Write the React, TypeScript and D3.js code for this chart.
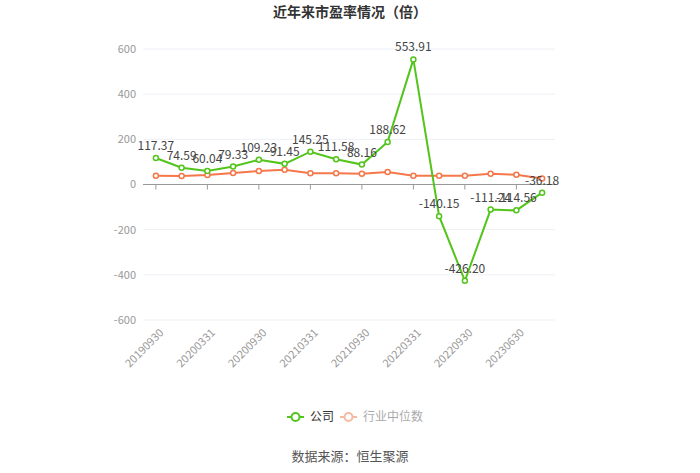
import React from "react";
import * as d3 from "d3";

const categories = [
  "20190930", "20191231", "20200331", "20200630", "20200930", "20201231",
  "20210331", "20210630", "20210930", "20211231", "20220331", "20220630",
  "20220930", "20221231", "20230630", "20230930",
];
const companyValues = [117.37, 74.59, 60.04, 79.33, 109.23, 91.45, 145.25, 111.58, 88.16, 188.62, 553.91, -140.15, -426.2, -111.24, -114.56, -36.18];
const industryValues = [39, 37.6, 42, 51, 60, 65.5, 49.6, 49.6, 48, 55, 39, 39, 39, 48, 43, 27];
const yTicks = [-600, -400, -200, 0, 200, 400, 600];
const seriesNames = ["公司", "行业中位数"];

const W = 700;
const H = 473;
const FONT = "'Noto Sans CJK SC', 'Noto Sans', sans-serif";
const GREEN = "#52c41a";
const ORANGE = "#f5774a";

export default function App() {
  const left = 143, right = 555, top = 49, bottom = 320;
  const x = d3.scaleBand<string>().domain(categories).range([left, right]);
  const cx = (c: string) => (x(c) as number) + x.bandwidth() / 2;
  const y = d3.scaleLinear().domain([-600, 600]).range([bottom, top]);
  const line = d3.line<number>().x((_, i) => cx(categories[i])).y((d) => y(d));
  const y0 = y(0);

  return (
    <svg width={W} height={H} style={{ position: "absolute", left: 0, top: 0, fontFamily: FONT }}>
      <rect width={W} height={H} fill="#fff" />
      <text x={350} y={17} textAnchor="middle" fontSize={14} fontWeight="bold" fill="#333">近年来市盈率情况（倍）</text>
      {yTicks.map((t) => (
        <g key={t}>
          {t !== 0 && <line x1={left} x2={right} y1={y(t)} y2={y(t)} stroke="#eef0f5" strokeWidth={1} />}
          <text x={136} y={y(t)} dy="0.35em" textAnchor="end" fontSize={11} fill="#999">{t}</text>
        </g>
      ))}
      <line x1={left} x2={right} y1={y0} y2={y0} stroke="#999" strokeWidth={1} />
      {categories.map((c, i) =>
        i % 2 === 0 ? (
          <g key={c}>
            <line x1={cx(c)} x2={cx(c)} y1={y0} y2={y0 + 5} stroke="#999" />
            <text transform={`translate(${cx(c) + 3},${bottom + 8}) rotate(-45)`} textAnchor="end" dy="0.7em" fontSize={11} fill="#999">{c}</text>
          </g>
        ) : null
      )}
      <path d={line(industryValues) || ""} fill="none" stroke={ORANGE} strokeWidth={2} />
      {industryValues.map((v, i) => (
        <circle key={i} cx={cx(categories[i])} cy={y(v)} r={2.5} fill="#fff" stroke={ORANGE} strokeWidth={1.5} />
      ))}
      <path d={line(companyValues) || ""} fill="none" stroke={GREEN} strokeWidth={2} />
      {companyValues.map((v, i) => (
        <circle key={i} cx={cx(categories[i])} cy={y(v)} r={2.5} fill="#fff" stroke={GREEN} strokeWidth={1.5} />
      ))}
      {companyValues.map((v, i) => (
        <text key={i} x={cx(categories[i])} y={y(v) - 8} textAnchor="middle" fontSize={12} fill="#444">{v.toFixed(2)}</text>
      ))}
      <g>
        <line x1={287} x2={304} y1={417} y2={417} stroke={GREEN} strokeWidth={2} />
        <circle cx={295.5} cy={417} r={4} fill="#fff" stroke={GREEN} strokeWidth={2} />
        <text x={310} y={417} dy="0.35em" fontSize={12} fill="#333">{seriesNames[0]}</text>
        <line x1={340} x2={357} y1={417} y2={417} stroke="#f7b9a0" strokeWidth={2} />
        <circle cx={348.5} cy={417} r={4} fill="#fff" stroke="#f7b9a0" strokeWidth={2} />
        <text x={363} y={417} dy="0.35em" fontSize={12} fill="#aaa">{seriesNames[1]}</text>
      </g>
      <text x={350} y={456} textAnchor="middle" dy="0.35em" fontSize={13} fill="#555">数据来源：恒生聚源</text>
    </svg>
  );
}
